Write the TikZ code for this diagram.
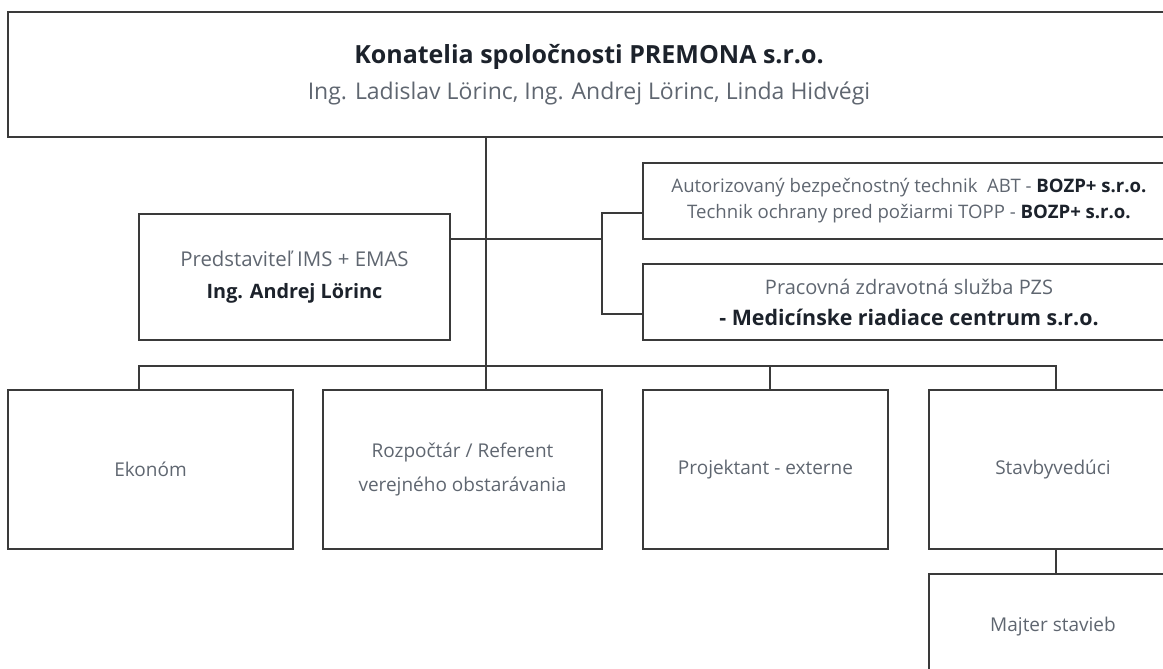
\documentclass[tikz,border=0pt]{standalone}
\usepackage{fontspec}
\setmainfont{Open Sans}
\usetikzlibrary{calc}
\definecolor{txtgray}{HTML}{5F6670}
\definecolor{txtdark}{HTML}{1C222B}
\definecolor{linegray}{HTML}{3A3A3A}
\newcommand{\dark}[1]{\textcolor{txtdark}{\bfseries #1}}
\tikzset{
    box/.style={draw=linegray, line width=0.7pt, inner sep=0pt, align=center, text=txtgray},
    conn/.style={draw=linegray, line width=0.7pt},
    lowbox/.style={box, minimum height=79.5pt, font=\fontsize{9.5}{17}\selectfont},
}

\begin{document}
\begin{tikzpicture}[x=0.5pt, y=-0.5pt]
    \useasboundingbox (0,0) rectangle (1163,669);
    \clip (0,0) rectangle (1163,669);
    % top
    \node (top) at (589,74.5) [box, minimum width=581pt, minimum height=62.5pt, font=\fontsize{11.5}{18}\selectfont]
        {{\fontsize{12.5}{18}\selectfont\dark{Konatelia spoločnosti PREMONA s.r.o.}}\\Ing. Ladislav Lörinc, Ing. Andrej Lörinc, Linda Hidvégi};
    % middle
    \node (ims) at (294.5,277) [box, minimum width=155.5pt, minimum height=63pt, font=\fontsize{10.2}{16}\selectfont]
        {Predstaviteľ IMS + EMAS\\{\fontsize{9.9}{16}\selectfont\dark{Ing. Andrej Lörinc}}};
    \node (abt) at (909,201) [box, minimum width=266pt, minimum height=38pt, font=\fontsize{9.3}{13}\selectfont]
        {Autorizovaný bezpečnostný technik\ \ ABT - \dark{BOZP+ s.r.o.}\\Technik ochrany pred požiarmi TOPP - \dark{BOZP+ s.r.o.}};
    \node (pzs) at (909,302) [box, minimum width=266pt, minimum height=38pt, font=\fontsize{10}{15.5}\selectfont]
        {Pracovná zdravotná služba PZS\\{\fontsize{10.7}{15.5}\selectfont\dark{- Medicínske riadiace centrum s.r.o.}}};
    % bottom
    \node (ekonom) at (150.5,469.5) [lowbox, minimum width=142.5pt] {Ekonóm};
    \node (rozpoctar) at (462.5,469.5) [lowbox, minimum width=139.5pt] {Rozpočtár / Referent\\verejného obstarávania};
    \node (projektant) at (765.5,469.5) [lowbox, minimum width=122.5pt] {Projektant - externe};
    \node (stavby) at (1053,469.5) [lowbox, minimum width=124pt] {Stavbyvedúci};
    \node (majter) at (1053,627) [box, minimum width=124pt, minimum height=53pt, font=\fontsize{9.5}{17}\selectfont] {Majter stavieb};
    % connectors
    \coordinate (trunk) at (486,366);
    \coordinate (brtop) at (602,213);
    \coordinate (brmid) at (602,239);
    \coordinate (brbot) at (602,314);
    \coordinate (busL) at (139,366);
    \coordinate (busP) at (770,366);
    \coordinate (busR) at (1056,366);
    \draw [conn] (trunk |- top.south) -- (trunk |- rozpoctar.north);
    \draw [conn] (ims.east |- brmid) -- (brmid);
    \draw [conn] (abt.west |- brtop) -- (brtop) -- (brbot) -- (pzs.west |- brbot);
    \draw [conn] (busL |- ekonom.north) -- (busL) -- (busR) -- (busR |- stavby.north);
    \draw [conn] (busP) -- (busP |- projektant.north);
    \draw [conn] (busR |- stavby.south) -- (busR |- majter.north);
\end{tikzpicture}
\end{document}
